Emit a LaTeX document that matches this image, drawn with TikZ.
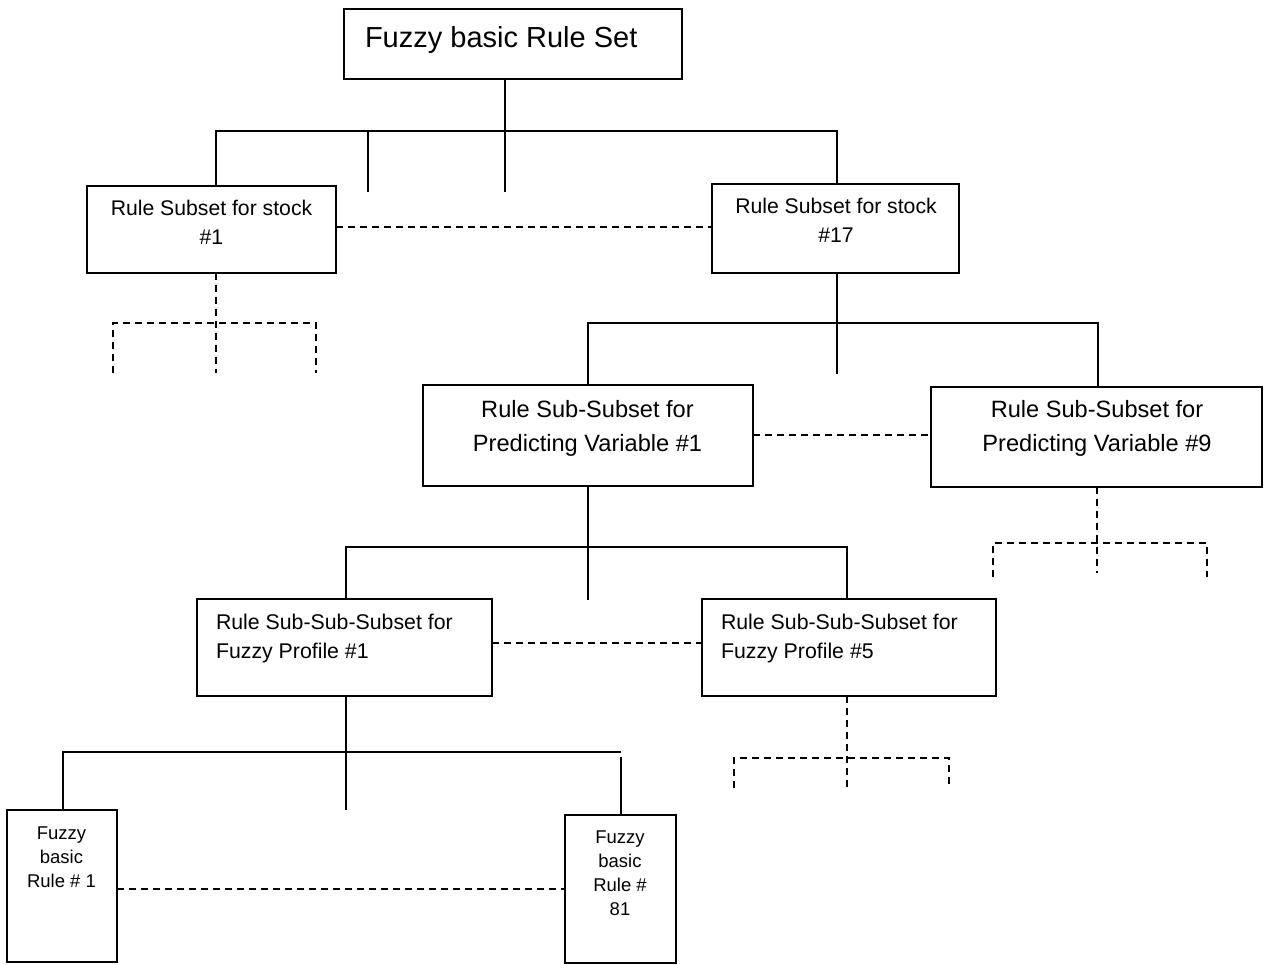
\documentclass[tikz,border=0pt]{standalone}
\usepackage{fontspec}
\setmainfont{Liberation Sans}
\begin{document}
\begin{tikzpicture}[x=1pt,y=-1pt,
  box/.style={draw, line width=1.6pt, inner sep=0pt, outer sep=0pt},
  link/.style={line width=1.6pt},
  dlink/.style={line width=1.6pt, dash pattern=on 7pt off 5pt},
  lbl/.style={inner sep=0pt, outer sep=0pt, text=black},
  titlefont/.style={font=\fontsize{29}{35}\selectfont},
  stockfont/.style={font=\fontsize{21.2}{29}\selectfont},
  varfont/.style={font=\fontsize{23.6}{33}\selectfont},
  proffont/.style={font=\fontsize{21.3}{29}\selectfont},
  rulefont/.style={font=\fontsize{18.5}{24}\selectfont}]
\useasboundingbox (0,0) rectangle (1264,965);

% boxes
\node[box, minimum width=338pt, minimum height=70pt]  (top) at (513,44) {};
\node[box, minimum width=249pt, minimum height=87pt]  (s1)  at (211.5,229.5) {};
\node[box, minimum width=247pt, minimum height=89pt]  (s17) at (835.5,228.5) {};
\node[box, minimum width=330pt, minimum height=101pt] (pv1) at (588,435.5) {};
\node[box, minimum width=331pt, minimum height=100pt] (pv9) at (1096.5,437) {};
\node[box, minimum width=295pt, minimum height=97pt]  (fp1) at (344.5,647.5) {};
\node[box, minimum width=294pt, minimum height=97pt]  (fp5) at (849,647.5) {};
\node[box, minimum width=110pt, minimum height=152pt] (r1)  at (62,886) {};
\node[box, minimum width=111pt, minimum height=148pt] (r81) at (620.5,889) {};

% labels (base anchor sits on the last line)
\node[lbl, titlefont, anchor=base west] (topt) at (365,48) {Fuzzy basic Rule Set};
\node[lbl, stockfont, anchor=base, align=center] (s1t) at (211.5,245) {Rule Subset for stock\\\#1};
\node[lbl, stockfont, anchor=base, align=center] (s17t) at (836,243) {Rule Subset for stock\\\#17};
\node[lbl, varfont, anchor=base, align=center] (pv1t) at (587.5,451) {Rule Sub-Subset for\\Predicting Variable \#1};
\node[lbl, varfont, anchor=base, align=center] (pv9t) at (1097,451) {Rule Sub-Subset for\\Predicting Variable \#9};
\node[lbl, proffont, anchor=base west, align=left] (fp1t) at (216,658) {Rule Sub-Sub-Subset for\\Fuzzy Profile \#1};
\node[lbl, proffont, anchor=base west, align=left] (fp5t) at (721,658) {Rule Sub-Sub-Subset for\\Fuzzy Profile \#5};
\node[lbl, rulefont, anchor=base, align=center] (r1t) at (61.5,887) {Fuzzy\\basic\\Rule \# 1};
\node[lbl, rulefont, anchor=base, align=center] (r81t) at (620,915) {Fuzzy\\basic\\Rule \#\\81};

% level 1: rule set to stock subsets
\coordinate (b1)  at (505,131);
\coordinate (b1l) at (216,131);
\coordinate (b1r) at (837,131);
\coordinate (b1s) at (368,192);
\coordinate (b1m) at (505,192);
\draw[link] (top.south -| b1) -- (b1);
\draw[link] (s1.north -| b1l) -- (b1l) -- (b1r) -- (s17.north -| b1r);
\draw[link] (b1s |- b1) -- (b1s);
\draw[link] (b1) -- (b1m);
\draw[dlink] ([yshift=2.5pt]s1.east) -- ([yshift=2.5pt]s1.east -| s17.west);

% dashed branch under stock #1
\coordinate (d1) at (216,323);
\draw[dlink] (s1.south -| d1) -- (216,373);
\draw[dlink] (113,373) -- (113,323) -- (316,323) -- (316,373);

% level 2: stock #17 to predicting variables
\coordinate (b2)  at (837,323);
\coordinate (b2l) at (588,323);
\coordinate (b2r) at (1098,323);
\draw[link] (s17.south -| b2) -- (837,374);
\draw[link] (pv1.north -| b2l) -- (b2l) -- (b2r) -- (pv9.north -| b2r);
\draw[dlink] ([yshift=0.5pt]pv1.east) -- ([yshift=0.5pt]pv1.east -| pv9.west);

% dashed branch under variable #9
\coordinate (d2) at (1097,543);
\draw[dlink] (pv9.south -| d2) -- (1097,573);
\draw[dlink] (993,577) -- (993,543) -- (1207,543) -- (1207,577);

% level 3: variable #1 to fuzzy profiles
\coordinate (b3)  at (588,547);
\coordinate (b3l) at (346,547);
\coordinate (b3r) at (847,547);
\draw[link] (pv1.south -| b3) -- (588,600);
\draw[link] (fp1.north -| b3l) -- (b3l) -- (b3r) -- (fp5.north -| b3r);
\draw[dlink] ([yshift=4.5pt]fp1.east) -- ([yshift=4.5pt]fp1.east -| fp5.west);

% dashed branch under profile #5
\coordinate (d3) at (847,758);
\draw[dlink] (fp5.south -| d3) -- (847,788);
\draw[dlink] (734,788) -- (734,758) -- (949,758) -- (949,788);

% level 4: profile #1 to basic rules
\coordinate (b4)  at (346,752);
\coordinate (b4l) at (63,752);
\coordinate (b4r) at (621,752);
\coordinate (b4q) at (621,757);
\draw[link] (fp1.south -| b4) -- (346,810);
\draw[link] (r1.north -| b4l) -- (b4l) -- (b4r);
\draw[link] (b4q) -- (r81.north -| b4q);
\draw[dlink] ([yshift=-3pt]r1.east) -- ([yshift=-3pt]r1.east -| r81.west);
\end{tikzpicture}
\end{document}
